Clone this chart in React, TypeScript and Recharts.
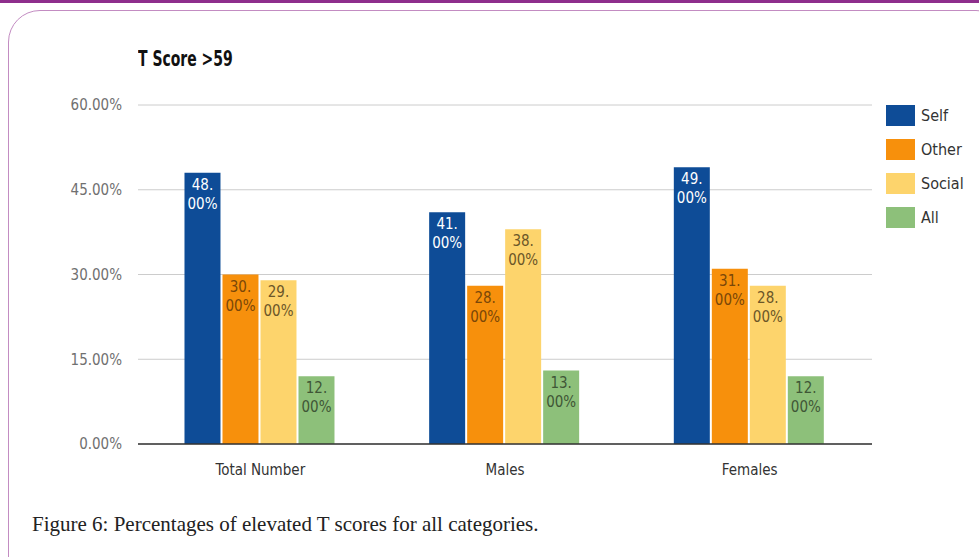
import { Bar, BarChart, CartesianGrid, LabelList, XAxis, YAxis } from "recharts";

const groups = ["Total Number", "Males", "Females"];
const selfValues = [48, 41, 49];
const otherValues = [30, 28, 31];
const socialValues = [29, 38, 28];
const allValues = [12, 13, 12];
const yTicks = [0, 15, 30, 45, 60];

const series = [
  { key: "self", name: "Self", fill: "#0e4c97", text: "#ffffff" },
  { key: "other", name: "Other", fill: "#f7900c", text: "#7a4708" },
  { key: "social", name: "Social", fill: "#fdd46c", text: "#6b5628" },
  { key: "all", name: "All", fill: "#8dc07a", text: "#3f5636" },
];

const data = groups.map((g, i) => ({
  group: g,
  self: selfValues[i],
  other: otherValues[i],
  social: socialValues[i],
  all: allValues[i],
}));

const FONT = "'Liberation Sans Narrow', 'DejaVu Sans Condensed', 'Liberation Sans', Arial, sans-serif";

function makeLabel(color: string) {
  return (props: any) => {
    const { x, y, width, value } = props;
    const cx = x + width / 2;
    const whole = Math.floor(value);
    return (
      <text x={cx} y={y + 17} textAnchor="middle" fill={color} fontSize={15} fontFamily={FONT}>
        <tspan x={cx}>{whole}.</tspan>
        <tspan x={cx} dy={19}>00%</tspan>
      </text>
    );
  };
}

function LegendBox() {
  return (
    <div style={{ fontFamily: FONT, fontSize: 16, color: "#333" }}>
      {series.map((s) => (
        <div key={s.key} style={{ display: "flex", alignItems: "center", height: 34 }}>
          <span style={{ width: 29, height: 21, background: s.fill, display: "inline-block", marginRight: 6 }} />
          {s.name}
        </div>
      ))}
    </div>
  );
}

export default function App() {
  return (
    <div style={{ position: "absolute", left: 0, top: 0, width: 979, height: 557, background: "#fff", overflow: "hidden" }}>
      <div style={{ position: "absolute", left: 0, top: 0, width: 979, height: 3, background: "#8e2f8c" }} />
      <div
        style={{
          position: "absolute",
          left: 8,
          top: 10,
          width: 1000,
          height: 580,
          border: "1.5px solid #c38cc2",
          borderRadius: 32,
          boxSizing: "border-box",
        }}
      />
      <div
        style={{
          position: "absolute",
          left: 138,
          top: 47,
          fontFamily: FONT,
          fontSize: 21,
          fontWeight: "bold",
          color: "#111",
          whiteSpace: "nowrap",
          transform: "scaleX(0.74)",
          transformOrigin: "left top",
        }}
      >
        T Score &gt;59
      </div>
      <div style={{ position: "absolute", left: 0, top: 0 }}>
        <BarChart
          width={979}
          height={557}
          data={data}
          margin={{ top: 105, right: 107, left: 8, bottom: 83 }}
          barCategoryGap="19%"
          barGap={2}
        >
          <CartesianGrid stroke="#cccccc" vertical={false} />
          <XAxis
            dataKey="group"
            axisLine={{ stroke: "#333", strokeWidth: 1.5 }}
            tickLine={false}
            height={30}
            tick={{ fill: "#333", fontSize: 15, fontFamily: FONT }}
            tickMargin={14}
          />
          <YAxis
            width={130}
            domain={[0, 60]}
            ticks={yTicks}
            axisLine={false}
            tickLine={false}
            tickMargin={10}
            tick={{ fill: "#707070", fontSize: 15, fontFamily: FONT }}
            tickFormatter={(v) => `${v.toFixed(2)}%`}
          />
          {series.map((s) => (
            <Bar key={s.key} dataKey={s.key} name={s.name} fill={s.fill} isAnimationActive={false}>
              <LabelList dataKey={s.key} content={makeLabel(s.text)} />
            </Bar>
          ))}
        </BarChart>
      </div>
      <div style={{ position: "absolute", left: 886, top: 98 }}>
        <LegendBox />
      </div>
      <div
        style={{
          position: "absolute",
          left: 32,
          top: 512,
          fontFamily: "'Liberation Serif', 'DejaVu Serif', serif",
          fontSize: 21,
          color: "#222",
        }}
      >
        Figure 6: Percentages of elevated T scores for all categories.
      </div>
    </div>
  );
}
